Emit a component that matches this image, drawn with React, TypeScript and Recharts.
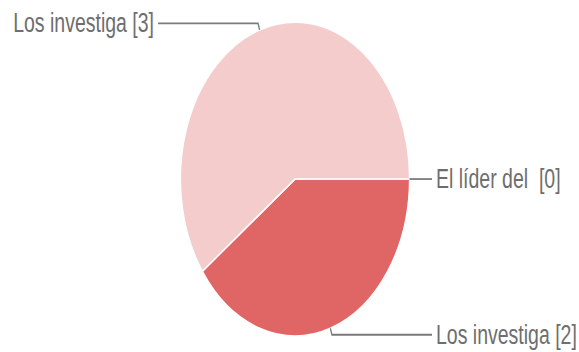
import { Cell, Pie, PieChart } from 'recharts'

const categories = ['El líder del ', 'Los investiga', 'Los investiga']
const values = [0, 2, 3]
const colors = ['#cc4125', '#e06666', '#f4cccc']

const data = categories.map((name, i) => ({ name, value: values[i] }))

// the reference is stretched vertically, so the chart is drawn round and then scaled
const SCALE_Y = 1.37
const WIDTH = 579
const HEIGHT = 352 / SCALE_Y

const RAD = Math.PI / 180

function renderLabel(props: any) {
  const { cx, cy, midAngle, outerRadius, name, value } = props
  const cos = Math.cos(-midAngle * RAD)
  const sin = Math.sin(-midAngle * RAD)
  const right = cos >= -0.0001
  const sx = cx + outerRadius * cos
  const sy = cy + outerRadius * sin
  const ex = cx + (outerRadius + 5) * cos
  const ey = cy + (outerRadius + 5) * sin
  const lx = cx + (right ? 137 : -137)
  return (
    <g>
      <polyline points={`${sx},${sy} ${ex},${ey} ${lx},${ey}`} fill="none" stroke="#7a7a7a" strokeWidth={1.3} />
      <text
        x={lx + (right ? 4 : -4)}
        y={ey}
        textAnchor={right ? 'start' : 'end'}
        dominantBaseline="central"
        fill="#6e6e6e"
        fontSize={19.5}
        fontFamily="'Liberation Sans', Arial, sans-serif"
        style={{ whiteSpace: 'pre' }}
      >
        {`${name} [${value}]`}
      </text>
    </g>
  )
}

export default function App() {
  return (
    <div
      style={{
        position: 'absolute',
        left: 0,
        top: 0,
        width: WIDTH,
        height: HEIGHT,
        background: '#fff',
        transform: `scaleY(${SCALE_Y})`,
        transformOrigin: 'top left',
      }}
    >
      <PieChart width={WIDTH} height={HEIGHT} margin={{ top: 0, right: 0, bottom: 0, left: 0 }}>
        <Pie
          data={data}
          dataKey="value"
          nameKey="name"
          cx={295}
          cy={130.7}
          outerRadius={114.5}
          startAngle={0}
          endAngle={-360}
          stroke="#fff"
          strokeWidth={1.2}
          label={renderLabel}
          labelLine={false}
          isAnimationActive={false}
        >
          {data.map((d, i) => (
            <Cell key={i} fill={colors[i]} />
          ))}
        </Pie>
      </PieChart>
    </div>
  )
}
